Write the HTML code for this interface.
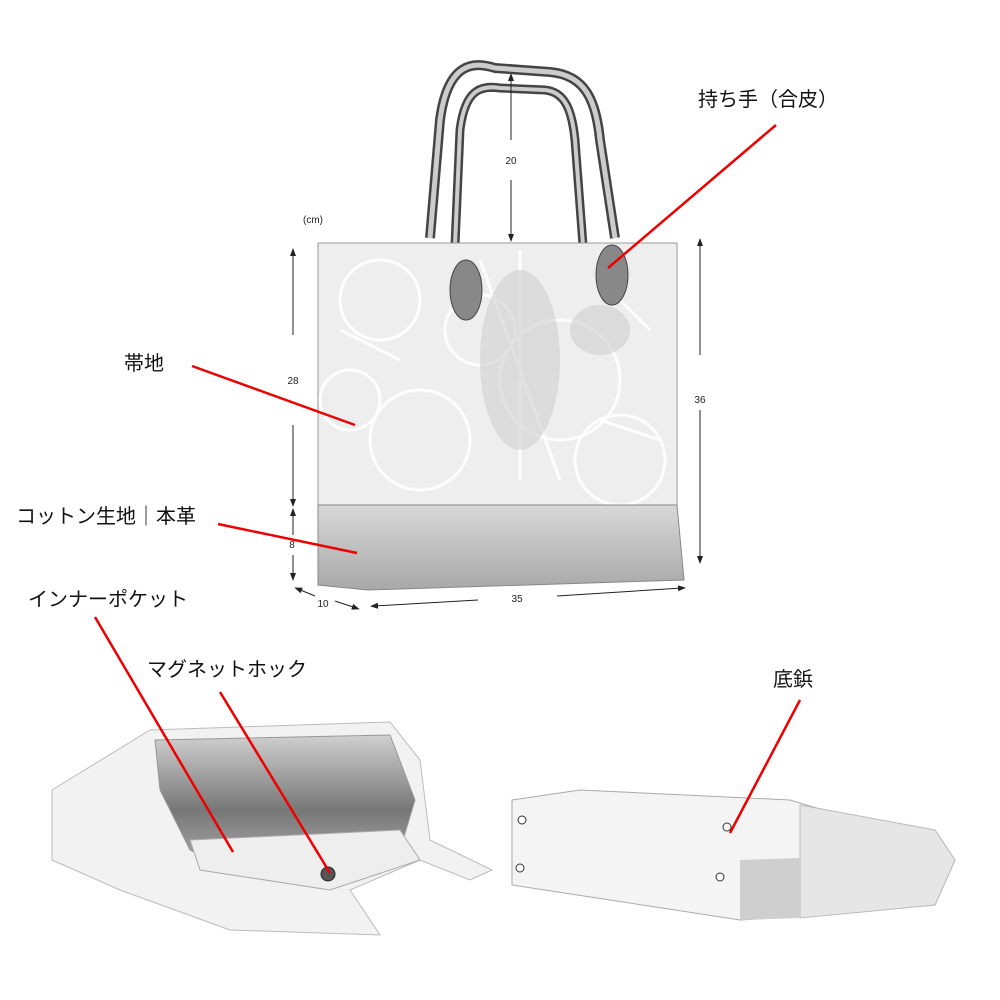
<!DOCTYPE html>
<html><head><meta charset="utf-8"><style>
html,body{margin:0;padding:0;background:#fff}
svg{display:block}
text{font-family:"Liberation Sans","Noto Sans CJK JP",sans-serif}
</style></head><body>
<svg width="1000" height="1000" viewBox="0 0 1000 1000" xmlns="http://www.w3.org/2000/svg">
<defs>
<linearGradient id="bot" x1="0" y1="0" x2="0" y2="1"><stop offset="0" stop-color="#d8d8d8"/><stop offset="1" stop-color="#a8a8a8"/></linearGradient>
<linearGradient id="inner" x1="0" y1="0" x2="0" y2="1"><stop offset="0" stop-color="#d0d0d0"/><stop offset="0.5" stop-color="#777"/><stop offset="1" stop-color="#bbb"/></linearGradient>
<marker id="ar" markerWidth="8" markerHeight="8" refX="4" refY="4" orient="auto"><path d="M0,1 L8,4 L0,7 z" fill="#222"/></marker>
</defs>
<!-- handles -->
<path d="M430,238 L440,120 C448,60 475,62 495,68 L550,72 C585,75 596,100 600,140 L615,238" fill="none" stroke="#444" stroke-width="10"/>
<path d="M430,238 L440,120 C448,60 475,62 495,68 L550,72 C585,75 596,100 600,140 L615,238" fill="none" stroke="#ccc" stroke-width="5"/>
<path d="M455,245 L460,130 C465,90 480,85 500,88 L545,90 C565,92 572,110 575,140 L583,245" fill="none" stroke="#444" stroke-width="9"/>
<path d="M455,245 L460,130 C465,90 480,85 500,88 L545,90 C565,92 572,110 575,140 L583,245" fill="none" stroke="#ccc" stroke-width="4"/>
<!-- body -->
<path d="M318,243 L677,243 L677,505 L318,505 Z" fill="#eeeeee" stroke="#999"/>
<g fill="none" stroke="#fff" stroke-width="3" opacity="0.9">
<circle cx="380" cy="300" r="40"/><circle cx="560" cy="380" r="60"/><circle cx="420" cy="440" r="50"/>
<circle cx="620" cy="460" r="45"/><circle cx="480" cy="330" r="35"/><circle cx="350" cy="400" r="30"/>
<path d="M520,250 L520,480 M480,260 L560,480 M600,280 L650,330 M340,330 L400,360 M600,420 L660,440"/>
</g>
<g fill="#d0d0d0" opacity="0.6"><ellipse cx="520" cy="360" rx="40" ry="90"/><ellipse cx="600" cy="330" rx="30" ry="25"/></g>
<path d="M318,505 L677,505 L684,580 L368,590 L318,585 Z" fill="url(#bot)" stroke="#888"/>
<ellipse cx="466" cy="290" rx="16" ry="30" fill="#888" stroke="#444"/>
<ellipse cx="612" cy="275" rx="16" ry="30" fill="#888" stroke="#444"/>
<g stroke="#222" stroke-width="1" fill="none">
<line x1="293" y1="335" x2="293" y2="252" marker-end="url(#ar)"/>
<line x1="293" y1="425" x2="293" y2="503" marker-end="url(#ar)"/>
<line x1="293" y1="535" x2="293" y2="512" marker-end="url(#ar)"/>
<line x1="293" y1="555" x2="293" y2="577" marker-end="url(#ar)"/>
<line x1="700" y1="355" x2="700" y2="242" marker-end="url(#ar)"/>
<line x1="700" y1="410" x2="700" y2="560" marker-end="url(#ar)"/>
<line x1="511" y1="140" x2="511" y2="77" marker-end="url(#ar)"/>
<line x1="511" y1="180" x2="511" y2="238" marker-end="url(#ar)"/>
<line x1="478" y1="600" x2="374" y2="606" marker-end="url(#ar)"/>
<line x1="557" y1="596" x2="682" y2="588" marker-end="url(#ar)"/>
<line x1="315" y1="596" x2="298" y2="589" marker-end="url(#ar)"/>
<line x1="335" y1="601" x2="356" y2="608" marker-end="url(#ar)"/>
</g>
<g font-size="10" fill="#222" text-anchor="middle">
<text x="313" y="223">(cm)</text><text x="293" y="384">28</text><text x="292" y="548">8</text>
<text x="700" y="403">36</text><text x="511" y="164">20</text><text x="517" y="602">35</text><text x="323" y="607">10</text>
</g>
<path d="M52,790 L150,730 L390,722 L420,760 L430,840 L492,870 L470,880 L420,860 L350,890 L380,935 L230,930 L120,890 L52,860 Z" fill="#f2f2f2" stroke="#bbb"/>
<path d="M155,740 L390,735 L415,800 L400,850 L330,885 L230,870 L190,850 L160,790 Z" fill="url(#inner)" stroke="#999"/>
<path d="M190,840 L400,830 L420,860 L330,890 L200,870 Z" fill="#eee" stroke="#aaa"/>
<circle cx="328" cy="874" r="7" fill="#555" stroke="#222"/>
<path d="M512,800 L580,790 L790,800 L840,815 L935,830 L955,860 L935,905 L820,915 L740,920 L512,885 Z" fill="#f4f4f4" stroke="#aaa"/>
<path d="M800,805 L935,830 L955,860 L935,905 L800,918 Z" fill="#e6e6e6" stroke="#bbb"/>
<path d="M740,860 L800,858 L800,918 L740,920 Z" fill="#cfcfcf"/>
<g fill="#fff" stroke="#333"><circle cx="522" cy="820" r="4"/><circle cx="520" cy="868" r="4"/><circle cx="727" cy="827" r="4"/><circle cx="720" cy="877" r="4"/></g>
<g stroke="#e00" stroke-width="2.5">
<line x1="776" y1="125" x2="608" y2="268"/>
<line x1="192" y1="366" x2="355" y2="425"/>
<line x1="218" y1="524" x2="357" y2="553"/>
<line x1="95" y1="617" x2="233" y2="852"/>
<line x1="220" y1="692" x2="330" y2="873"/>
<line x1="800" y1="700" x2="730" y2="833"/>
</g>
<g font-size="20" fill="#111">
<text x="698" y="106">持ち手（合皮）</text>
<text x="124" y="370">帯地</text>
<text x="16" y="523">コットン生地｜本革</text>
<text x="28" y="606">インナーポケット</text>
<text x="147" y="676">マグネットホック</text>
<text x="773" y="686">底鋲</text>
</g>
</svg>
</body></html>
